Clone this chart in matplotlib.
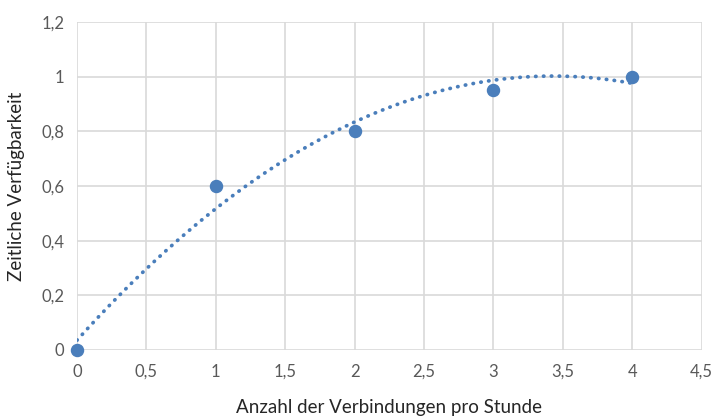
import numpy as np
import matplotlib
matplotlib.use("Agg")
import matplotlib.pyplot as plt
from matplotlib.ticker import FuncFormatter

plt.rcParams['font.family'] = ['Lato', 'DejaVu Sans']

# Messwerte
verbindungen = [0, 1, 2, 3, 4]
verfuegbarkeit = [0.0, 0.6, 0.8, 0.95, 1.0]

x_ticks = [0, 0.5, 1, 1.5, 2, 2.5, 3, 3.5, 4, 4.5]
y_ticks = [0, 0.2, 0.4, 0.6, 0.8, 1.0, 1.2]

blue = '#4a7ebb'
grey_text = '#595959'

fig = plt.figure(figsize=(7.16, 4.16), dpi=100)
ax = fig.add_axes([0.1075, 0.1587, 0.8725, 0.7883])

# polynomische Trendlinie (Ordnung 2)
coef = np.polyfit(verbindungen, verfuegbarkeit, 2)
xs = np.linspace(min(verbindungen), max(verbindungen), 300)
ax.plot(xs, np.polyval(coef, xs), color=blue, lw=2.7, linestyle=(0, (0.1, 2.0)),
        dash_capstyle='round', zorder=3)

ax.scatter(verbindungen, verfuegbarkeit, s=75, color=blue, zorder=4, clip_on=False)

ax.set_xlim(0, 4.5)
ax.set_ylim(0, 1.2)
ax.set_xticks(x_ticks)
ax.set_yticks(y_ticks)

fmt = FuncFormatter(lambda v, _: f'{v:g}'.replace('.', ','))
ax.xaxis.set_major_formatter(fmt)
ax.yaxis.set_major_formatter(fmt)

ax.grid(True, color='#d9d9d9', lw=1.2)
ax.set_axisbelow(True)
for s in ax.spines.values():
    s.set_visible(False)
ax.tick_params(length=0, labelsize=12, labelcolor=grey_text)
ax.tick_params(axis='x', pad=10)
ax.tick_params(axis='y', pad=9)

ax.set_xlabel('Anzahl der Verbindungen pro Stunde', fontsize=13.5, color='#262626', labelpad=14)
ax.set_ylabel('Zeitliche Verfügbarkeit', fontsize=13.5, color='#262626', labelpad=12)

fig.savefig('out.png', dpi=100)
